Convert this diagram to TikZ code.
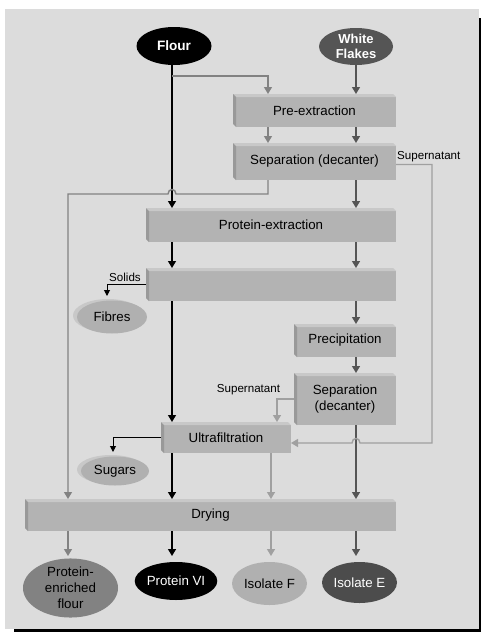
\documentclass[tikz,border=0pt]{standalone}
\usepackage{fontspec}
\setmainfont{Liberation Sans}
\usetikzlibrary{shapes.geometric,arrows.meta,calc}
\definecolor{bgc}{HTML}{DCDCDC}
\definecolor{boxfront}{HTML}{B3B3B3}
\definecolor{boxtop}{HTML}{C8C8C8}
\definecolor{boxleft}{HTML}{999999}
\definecolor{darkg}{HTML}{555555}
\definecolor{midg}{HTML}{828282}
\definecolor{lightg}{HTML}{A0A0A0}
\definecolor{ellg}{HTML}{B0B0B0}
\definecolor{ellrim}{HTML}{C8C8C8}
\begin{document}
\begin{tikzpicture}[x=1pt,y=-1pt,
  procbox/.style={rectangle, inner sep=0pt, outer sep=0pt, align=center,
    font=\fontsize{13.3}{16}\selectfont,
    path picture={
      \fill[boxfront] ([xshift=3pt,yshift=-3pt]path picture bounding box.north west) rectangle (path picture bounding box.south east);
      \fill[boxtop] (path picture bounding box.north west) -- ([xshift=-3pt]path picture bounding box.north east) -- ([yshift=-3pt]path picture bounding box.north east) -- ([xshift=3pt,yshift=-3pt]path picture bounding box.north west) -- cycle;
      \fill[boxleft] (path picture bounding box.north west) -- ([xshift=3pt,yshift=-3pt]path picture bounding box.north west) -- ([xshift=3pt]path picture bounding box.south west) -- ([yshift=3pt]path picture bounding box.south west) -- cycle;
    }},
  ell/.style={ellipse, inner sep=0pt, outer sep=0pt, align=center, font=\fontsize{13.3}{15}\selectfont},
  lab/.style={inner sep=0pt, font=\fontsize{11.6}{13}\selectfont},
  flow/.style={line width=1.4pt, -{Triangle[width=8pt,length=7pt]}},
  thinflow/.style={line width=1pt, -{Triangle[width=6pt,length=6pt]}}
]
\useasboundingbox (0,0) rectangle (481,632);
\fill[black] (14,18) rectangle (481,632);
\fill[bgc] (5,9) rectangle (479,629);

% column coordinates
\coordinate (cA) at (68,0);
\coordinate (cB) at (172,0);
\coordinate (cC) at (268,0);
\coordinate (cE) at (271,0);
\coordinate (cD) at (356,0);
\coordinate (cS) at (277,0);
\coordinate (br) at (172,76);
\coordinate (rt) at (432,443);
\coordinate (bot) at (0,556);

% source ellipses
\node[ell, fill=black, text=white, font=\bfseries\fontsize{13.6}{15}\selectfont, minimum width=75pt, minimum height=38pt] (flour) at (174,46) {Flour};
\node[ell, fill=darkg, text=white, font=\bfseries\fontsize{13}{15}\selectfont, minimum width=74pt, minimum height=37pt] (flakes) at (356,46.5) {White\\Flakes};

% process boxes
\node[procbox, minimum width=163pt, minimum height=33pt] (pre) at (314.5,110.5) {Pre-extraction};
\node[procbox, minimum width=163pt, minimum height=37pt] (sep1) at (314.5,161.5) {Separation (decanter)};
\node[procbox, minimum width=250pt, minimum height=34pt] (pext) at (271,225) {Protein-extraction};
\node[procbox, minimum width=250pt, minimum height=33pt] (blank) at (271,284.5) {};
\node[procbox, minimum width=102pt, minimum height=33pt] (prec) at (345,340.5) {Precipitation};
\node[procbox, minimum width=102pt, minimum height=52pt] (sep2) at (345,399) {Separation\\(decanter)};
\node[procbox, minimum width=130pt, minimum height=31pt] (ultra) at (226,437.5) {Ultrafiltration};
\node[procbox, minimum width=371pt, minimum height=32pt] (dry) at (210.5,515) {Drying};

% by-product ellipses
\fill[ellrim] (108,315.5) ellipse [x radius=35, y radius=16.5];
\node[ell, fill=ellg, minimum width=70pt, minimum height=33pt] (fibres) at (112,317) {Fibres};
\fill[ellrim] (111,469.5) ellipse [x radius=34, y radius=14.5];
\node[ell, fill=ellg, minimum width=68pt, minimum height=29pt] (sugars) at (115,471) {Sugars};

% products
\node[ell, fill=midg, minimum width=95pt, minimum height=52pt, font=\fontsize{13.3}{16}\selectfont] (pef) at (70.5,588) {Protein-\\enriched\\flour};
\node[ell, fill=black, text=white, minimum width=75pt, minimum height=38pt] (pvi) at (176,581) {Protein VI};
\node[ell, fill=ellg, minimum width=75pt, minimum height=43pt] (isof) at (269.5,583.5) {Isolate F};
\node[ell, fill=darkg!90!black, text=white, minimum width=75pt, minimum height=41pt] (isoe) at (359.5,582.5) {Isolate E};

% labels
\node[lab, anchor=west] (sup1) at (397,157) {Supernatant};
\node[lab] (solids) at (125,277.5) {Solids};
\node[lab] (sup2) at (248.5,390) {Supernatant};

% connectors
\draw[flow, black] (cB |- flour.south) -- (cB |- pext.north);
\draw[flow, midg] (br) -| (cC |- pre.north);
\draw[flow, darkg] (cD |- flakes.south) -- (cD |- pre.north);
\draw[flow, midg] (cC |- pre.south) -- (cC |- sep1.north);
\draw[flow, darkg] (cD |- pre.south) -- (cD |- sep1.north);
\draw[flow, midg] (cC |- sep1.south) -- (268,194) -- (176,194) .. controls (176,188) and (168,188) .. (168,194) -- (68,194) -- (cA |- dry.north);
\draw[flow, darkg] (cD |- sep1.south) -- (cD |- pext.north);
\draw[flow, black] (cB |- pext.south) -- (cB |- blank.north);
\draw[flow, darkg] (cD |- pext.south) -- (cD |- blank.north);
\draw[thinflow, black] (blank.west) -| (107,296);
\draw[flow, black] (cB |- blank.south) -- (cB |- ultra.north);
\draw[flow, darkg] (cD |- blank.south) -- (cD |- prec.north);
\draw[flow, darkg] (cD |- prec.south) -- (cD |- sep2.north);
\draw[flow, lightg] (sep2.west) -| (cS |- ultra.north);
\draw[flow, darkg] (cD |- sep2.south) -- (cD |- dry.north);
\draw[flow, lightg] ([yshift=-3pt]sep1.east) -| (rt) -- (360,443) .. controls (360,437) and (352,437) .. (352,443) -- (ultra.east |- rt);
\draw[thinflow, black] (ultra.west) -| (113,452);
\draw[flow, black] (cB |- ultra.south) -- (cB |- dry.north);
\draw[flow, lightg] (cE |- ultra.south) -- (cE |- dry.north);
\draw[flow, midg] (cA |- dry.south) -- (cA |- bot);
\draw[flow, black] (cB |- dry.south) -- (cB |- bot);
\draw[flow, lightg] (cE |- dry.south) -- (cE |- bot);
\draw[flow, darkg] (cD |- dry.south) -- (cD |- bot);
\end{tikzpicture}
\end{document}
